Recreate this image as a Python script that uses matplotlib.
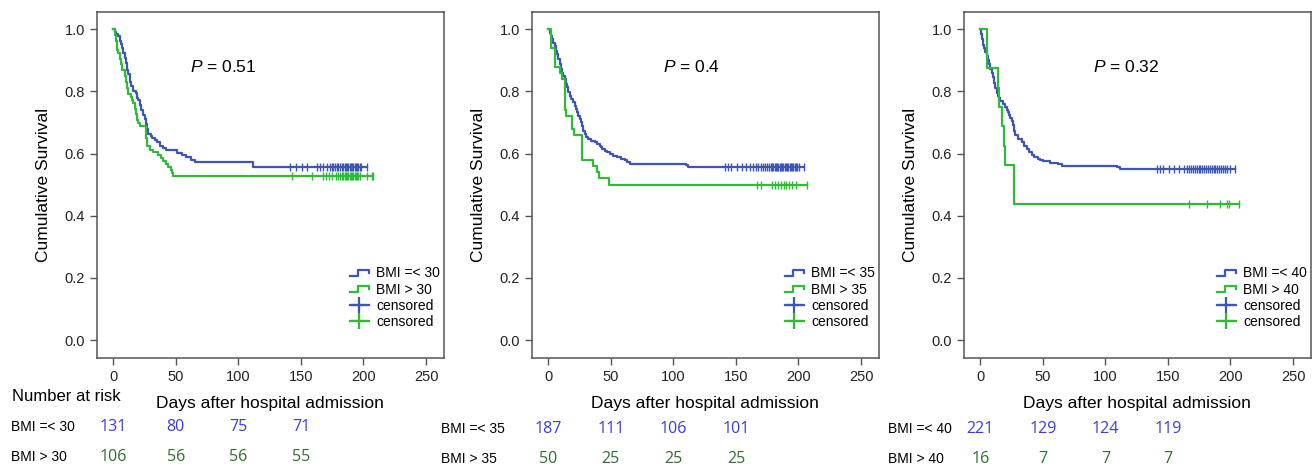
import numpy as np
import matplotlib
matplotlib.use("Agg")
import matplotlib.pyplot as plt
from matplotlib.lines import Line2D
from matplotlib.legend_handler import HandlerBase
from matplotlib.transforms import blended_transform_factory

plt.rcParams["font.family"] = ["Liberation Sans", "DejaVu Sans"]
plt.rcParams["mathtext.fontset"] = "custom"
plt.rcParams["mathtext.it"] = "Liberation Sans:italic"
plt.rcParams["mathtext.rm"] = "Liberation Sans"

BLUE = "#3d56b4"
GREEN = "#2fba38"
NUM_BLUE = "#3b3bdc"
NUM_GREEN = "#2f6e2f"

# ---- panel 1 : BMI 30 ----
t1_low = [0, 1, 2, 4, 5, 6, 7, 8, 9, 10, 11, 12, 13, 14, 16, 18, 19, 20, 21, 22, 24, 25, 26, 27, 28,
          30, 31, 33, 35, 37, 40, 42, 51, 55, 58, 62, 65, 112]
s1_low = [1.0, 0.992, 0.985, 0.977, 0.962, 0.954, 0.939, 0.924, 0.908, 0.893, 0.870, 0.855, 0.832,
          0.817, 0.802, 0.794, 0.779, 0.771, 0.756, 0.740, 0.725, 0.710, 0.695, 0.679, 0.664,
          0.656, 0.649, 0.643, 0.636, 0.626, 0.618, 0.611, 0.603, 0.595, 0.590, 0.580, 0.572, 0.557]
c1_low = [141, 146, 151, 155, 163, 165, 168, 171, 173, 175, 176, 177.5, 179, 180, 181, 182.5, 184,
          185, 186, 187, 188, 189, 190, 191, 192, 193, 194, 195, 196, 197, 198, 202.6]
t1_high = [0, 1, 2, 3, 4, 5, 6, 7, 9, 10, 11, 12, 13, 14, 15, 16, 17, 18, 19, 20, 21, 26, 27, 29,
           32, 36, 38, 40, 42, 44, 46, 47, 48]
s1_high = [1.0, 0.981, 0.962, 0.934, 0.925, 0.906, 0.887, 0.868, 0.849, 0.830, 0.811, 0.792, 0.792,
           0.783, 0.774, 0.764, 0.745, 0.726, 0.708, 0.698, 0.689, 0.651, 0.623, 0.613, 0.604,
           0.594, 0.585, 0.575, 0.566, 0.557, 0.547, 0.538, 0.528]
c1_high = [142.7, 158.7, 168, 170, 172.8, 174.7, 178, 180, 181.5, 183, 184, 185, 186, 187, 188, 189,
           190, 191, 192, 193, 194, 195, 196, 197, 202.6, 206.6, 207.7]

# ---- panel 2 : BMI 35 ----
t2_low = [0, 1, 2, 3, 4, 5, 6, 7, 8, 9, 10, 11, 12, 13, 14, 15, 16, 17, 18, 20, 21, 22, 23, 24, 25,
          26, 27, 28, 29, 30, 32, 34, 37, 39, 41, 42, 43, 45, 47, 49, 52, 55, 58, 61, 63, 65, 110, 112]
s2_low = [1.0, 0.989, 0.979, 0.968, 0.957, 0.947, 0.931, 0.920, 0.904, 0.888, 0.872, 0.861, 0.850,
          0.840, 0.824, 0.813, 0.797, 0.786, 0.776, 0.765, 0.754, 0.743, 0.733, 0.722, 0.711,
          0.701, 0.690, 0.674, 0.663, 0.652, 0.647, 0.641, 0.636, 0.630, 0.625, 0.620, 0.614,
          0.609, 0.604, 0.598, 0.593, 0.588, 0.583, 0.578, 0.573, 0.568, 0.563, 0.558]
c2_low = [141.4, 144, 146, 151.2, 155.2, 158.4, 161.1, 163.7, 165.9, 168, 169.9, 171.7, 173.3, 175.2,
          176.5, 178, 179, 180, 181, 182, 183, 184, 185, 186, 187, 188, 189, 190, 191, 192, 193,
          194, 195, 196, 197, 198, 199, 200.5, 204.5]
t2_high = [0, 2, 5, 9.3, 11, 13, 13.6, 14, 18.6, 20.8, 26.9, 35.9, 38.6, 40.2, 48.7]
s2_high = [1.0, 0.94, 0.88, 0.86, 0.84, 0.78, 0.74, 0.72, 0.68, 0.66, 0.58, 0.56, 0.54, 0.52, 0.50]
c2_high = [167.2, 169.9, 179.2, 181.3, 183.5, 185.9, 188.5, 190.4, 192.5, 195.2, 197.9, 207.1]

# ---- panel 3 : BMI 40 ----
t3_low = [0, 0.5, 1, 2, 3, 4, 5, 6, 7, 8, 9, 10, 11, 12, 13, 14, 15, 16, 18, 20, 21, 22, 23, 24, 25,
          26, 27, 28, 30, 33, 35, 37, 39, 41, 43, 46, 48, 50, 56, 62, 65, 109, 112]
s3_low = [1.0, 0.986, 0.968, 0.950, 0.941, 0.928, 0.914, 0.900, 0.887, 0.873, 0.860, 0.846, 0.828,
          0.810, 0.796, 0.787, 0.778, 0.769, 0.760, 0.751, 0.742, 0.733, 0.724, 0.715, 0.706,
          0.692, 0.674, 0.660, 0.647, 0.638, 0.624, 0.615, 0.606, 0.597, 0.588, 0.584, 0.579,
          0.575, 0.570, 0.566, 0.561, 0.557, 0.552]
c3_low = [141.3, 144, 146.1, 150.9, 154.9, 158.9, 162.7, 165.3, 166.9, 168.5, 170.1, 171.5, 173,
          174.5, 176, 177.5, 179, 180.5, 182, 183.5, 185, 186.5, 188, 189.5, 191, 192.5, 194,
          195.5, 197, 199.5, 203.5]
t3_high = [0, 5, 14.4, 15.2, 17.4, 18.7, 20, 26.7]
s3_high = [1.0, 0.875, 0.8125, 0.75, 0.6875, 0.625, 0.5625, 0.4375]
c3_high = [166.9, 181.3, 191.5, 196.9, 198.5, 207.0]

cutoffs = [30, 35, 40]
p_values = ["0.51", "0.4", "0.32"]
p_xpos = [61, 92, 90]
risk_ticks = [0, 50, 100, 150]
risk_low = [[131, 80, 75, 71], [187, 111, 106, 101], [221, 129, 124, 119]]
risk_high = [[106, 56, 56, 55], [50, 25, 25, 25], [16, 7, 7, 7]]

curves = [
    (t1_low, s1_low, c1_low, t1_high, s1_high, c1_high),
    (t2_low, s2_low, c2_low, t2_high, s2_high, c2_high),
    (t3_low, s3_low, c3_low, t3_high, s3_high, c3_high),
]


class StepHandler(HandlerBase):
    # little stair symbol like the SPSS legend
    def create_artists(self, legend, orig_handle, xdescent, ydescent, width, height, fontsize, trans):
        x0, y0 = -xdescent, -ydescent
        xs = [x0, x0 + 0.45 * width, x0 + 0.45 * width, x0 + width, x0 + width]
        ys = [y0 + 0.15 * height, y0 + 0.15 * height, y0 + 0.8 * height, y0 + 0.8 * height, y0 + 0.45 * height]
        ln = Line2D(xs, ys, color=orig_handle.get_color(), lw=orig_handle.get_linewidth())
        ln.set_transform(trans)
        return [ln]


def draw_km(ax, t, s, cens, color):
    t = np.array(t, dtype=float)
    s = np.array(s, dtype=float)
    cens = np.array(cens, dtype=float)
    end = cens.max()
    ax.step(np.append(t, end), np.append(s, s[-1]), where="post", color=color, lw=1.6)
    idx = np.searchsorted(t, cens, side="right") - 1
    ax.plot(cens, s[idx], ls="none", marker="|", ms=6, mew=1.0, color=color)


fig = plt.figure(figsize=(13.15, 4.7), dpi=100)
lefts = [0.0738, 0.4046, 0.7331]
width = 0.2635
label_x = [0.008, 0.335, 0.675]
row_y = [[0.0915, 0.0277], [0.087, 0.0234], [0.087, 0.0234]]

for i in range(3):
    ax = fig.add_axes([lefts[i], 0.238, width, 0.736])
    tl, sl, cl, th, sh, ch = curves[i]
    draw_km(ax, tl, sl, cl, BLUE)
    draw_km(ax, th, sh, ch, GREEN)

    ax.set_xlim(-13, 264)
    ax.set_ylim(-0.058, 1.055)
    ax.set_xticks([0, 50, 100, 150, 200, 250])
    ax.set_yticks([0.0, 0.2, 0.4, 0.6, 0.8, 1.0])
    ax.set_yticklabels(["0.0", "0.2", "0.4", "0.6", "0.8", "1.0"])
    ax.tick_params(labelsize=10.5, length=5, width=1.0, color="#555555", labelcolor="#222222")
    for sp in ax.spines.values():
        sp.set_color("#555555")
        sp.set_linewidth(1.1)
    ax.set_xlabel("Days after hospital admission", fontsize=12.5, labelpad=9)
    ax.set_ylabel("Cumulative Survival", fontsize=12.5, labelpad=10)

    ax.text(p_xpos[i], 0.88, "$\\it{P}$ = " + p_values[i], fontsize=12.5, va="center", ha="left")

    handles = [
        Line2D([], [], color=BLUE, lw=1.6),
        Line2D([], [], color=GREEN, lw=1.6),
        Line2D([], [], color=BLUE, lw=1.6, marker="+", ms=11, mew=1.6),
        Line2D([], [], color=GREEN, lw=1.6, marker="+", ms=11, mew=1.6),
    ]
    labels = ["BMI =< %d" % cutoffs[i], "BMI > %d" % cutoffs[i], "censored", "censored"]
    ax.legend(handles, labels, loc="lower right", bbox_to_anchor=(0.99, 0.085), frameon=False,
              fontsize=10, handlelength=1.35, handletextpad=0.55, labelspacing=0.15, borderaxespad=0,
              numpoints=1, borderpad=0,
              handler_map={handles[0]: StepHandler(), handles[1]: StepHandler()})

    # number at risk table
    tr = blended_transform_factory(ax.transData, fig.transFigure)
    fig.text(label_x[i], row_y[i][0], "BMI =< %d" % cutoffs[i], fontsize=10, va="center")
    fig.text(label_x[i], row_y[i][1], "BMI > %d" % cutoffs[i], fontsize=10, va="center")
    for k, x in enumerate(risk_ticks):
        ax.text(x, row_y[i][0], str(risk_low[i][k]), transform=tr, ha="center", va="center",
                fontsize=11.5, color=NUM_BLUE, family="Open Sans")
        ax.text(x, row_y[i][1], str(risk_high[i][k]), transform=tr, ha="center", va="center",
                fontsize=11.5, color=NUM_GREEN, family="Open Sans")

fig.text(0.009, 0.157, "Number at risk", fontsize=12, va="center")

fig.savefig("out.png", dpi=100)
